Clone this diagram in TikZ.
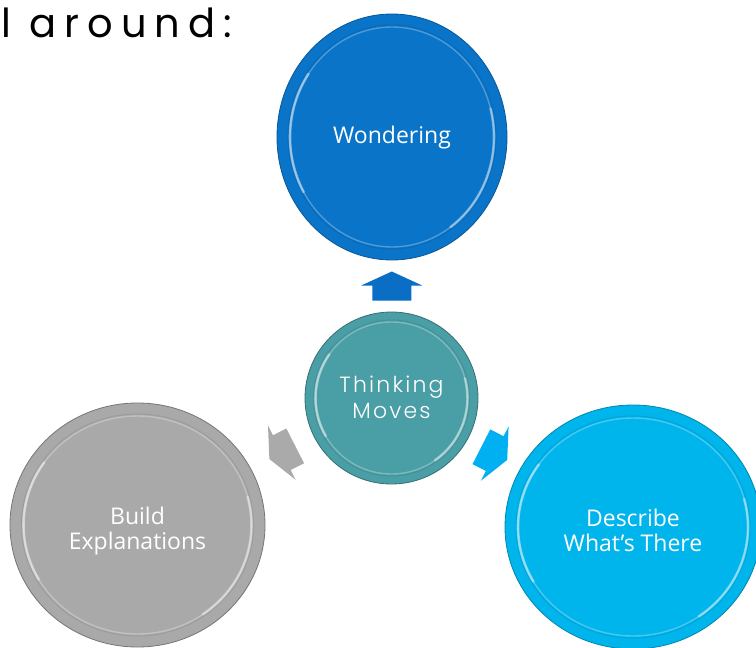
\documentclass[tikz,border=0pt]{standalone}
\usepackage{fontspec}
\setmainfont{Open Sans}
\newfontfamily\geofont[LetterSpace=10]{Poppins Light}
\newfontfamily\headfont[LetterSpace=20]{Poppins}
\usetikzlibrary{shapes.geometric,calc}
\definecolor{wblue}{RGB}{10,116,200}
\definecolor{tealc}{RGB}{74,158,165}
\definecolor{grayc}{RGB}{169,169,169}
\definecolor{cyanc}{RGB}{0,180,236}
\definecolor{arrblue}{RGB}{10,110,196}
\definecolor{arrgray}{RGB}{170,170,170}
\definecolor{arrcyan}{RGB}{0,176,240}
\tikzset{
  bubble/.style={ellipse, inner sep=0pt, line width=0.8pt},
  lbl/.style={text=white, align=center, inner sep=0pt, font=\fontsize{23}{25}\selectfont},
  blockarrow/.pic={\fill[pic actions] (-14.5,-19.5) -- (0.5,-19.5) -- (0.5,-30.5) -- (14.5,0) -- (0.5,30.5) -- (0.5,19.5) -- (-14.5,19.5) -- cycle;}
}
\newcommand{\rimring}[4]{% node, color, rx, ry
  \draw[line width=1.4pt, color=white, opacity=0.28] (#1.center) ellipse [x radius=#3, y radius=#4];
  \draw[line width=1pt, color=#2!75!black, opacity=0.3] (#1.center) ellipse [x radius=#3+2, y radius=#4+2];
  \draw[line width=2.6pt, color=white, opacity=0.45, line cap=round] (#1.center) ++(150:#3 and #4) arc[start angle=150, end angle=215, x radius=#3, y radius=#4];
  \draw[line width=2.6pt, color=white, opacity=0.4, line cap=round] (#1.center) ++(-15:#3 and #4) arc[start angle=-15, end angle=55, x radius=#3, y radius=#4];
}
\begin{document}
\begin{tikzpicture}[x=1pt,y=-1pt]
\useasboundingbox (0,0) rectangle (756,648);
\fill[white] (0,0) rectangle (756,648);

\node[anchor=base west, font=\headfont\fontsize{40}{42}\selectfont, inner sep=0pt] (title) at (1,37) {l around:};

\node[bubble, minimum width=230pt, minimum height=246pt, fill=wblue, draw=wblue!75!black] (w) at (392,137) {};
\rimring{w}{wblue}{102}{110}
\node[lbl] (wt) at ($(w.center)+(0,1)$) {Wondering};

\node[bubble, minimum width=173pt, minimum height=172pt, fill=tealc, draw=tealc!70!black] (c) at (391.5,398) {};
\rimring{c}{tealc}{76}{76}
\node[lbl, font=\geofont\fontsize{22}{26}\selectfont] (ct) at ($(c.center)+(0,-1)$) {Thinking\\Moves};

\node[bubble, minimum width=255pt, minimum height=244pt, fill=grayc, draw=grayc!70!black] (b) at (137.5,525) {};
\rimring{b}{grayc}{114}{109}
\node[lbl] (bt) at ($(b.center)+(0,6)$) {Build\\Explanations};

\node[bubble, minimum width=256pt, minimum height=244pt, fill=cyanc, draw=cyanc!75!black] (d) at (633,527) {};
\rimring{d}{cyanc}{115}{109}
\node[lbl] (dt) at ($(d.center)+(0,3)$) {Describe\\What's There};

\path ($(c.north)!0.5!(w.south)$) pic[rotate=90, fill=arrblue] {blockarrow};
\path ($(c.207)!0.5!(b.27)$) pic[rotate=207, fill=arrgray] {blockarrow};
\path ($(c.-27)!0.5!(d.153)$) pic[rotate=-27, fill=arrcyan] {blockarrow};
\end{tikzpicture}
\end{document}
